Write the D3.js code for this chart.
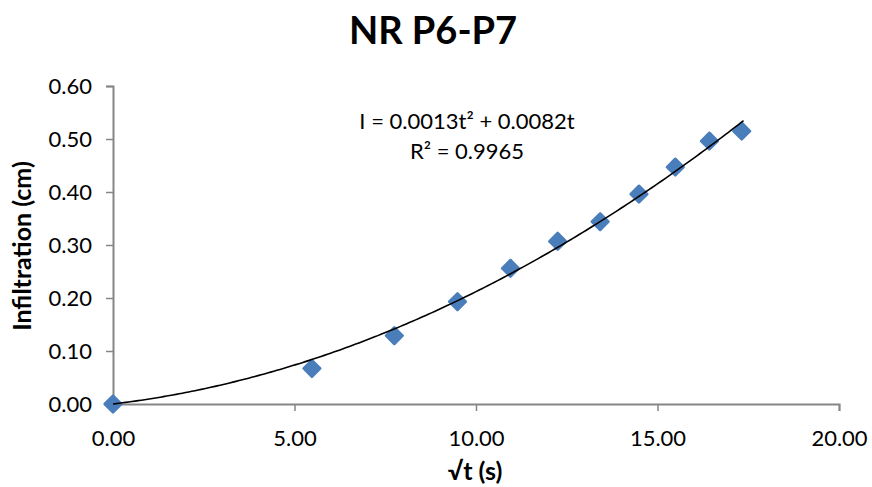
<!DOCTYPE html>
<html><head><meta charset="utf-8">
<script src="https://cdn.jsdelivr.net/npm/d3@7"></script>
<style>body{margin:0;background:#fff}svg{display:block}</style>
</head><body>
<svg id="c" width="872" height="487"></svg>
<script>
const sqrtT = [0, 5.48, 7.75, 9.49, 10.95, 12.25, 13.42, 14.49, 15.49, 16.43, 17.32];
const infiltration = [0, 0.067, 0.129, 0.193, 0.256, 0.307, 0.344, 0.396, 0.447, 0.496, 0.515];
const trendCoef = [0.0013, 0.0082]; // I = a t^2 + b t
const xTicks = [0, 5, 10, 15, 20];
const yTicks = [0, 0.1, 0.2, 0.3, 0.4, 0.5, 0.6];
const title = "NR P6-P7";
const xTitle = "√t (s)";
const yTitle = "Infiltration (cm)";
const eqLine1 = "I = 0.0013t² + 0.0082t";
const eqLine2 = "R² = 0.9965";

const F = "Lato, 'Open Sans', sans-serif";
const svg = d3.select("#c");
const x = d3.scaleLinear().domain([0, 20]).range([113, 839]);
const y = d3.scaleLinear().domain([0, 0.6]).range([404, 86]);

const xa = svg.append("g").attr("transform", "translate(0,404)")
  .call(d3.axisBottom(x).tickValues(xTicks).tickFormat(d3.format(".2f")).tickSizeOuter(0).tickSize(7).tickPadding(19));
const ya = svg.append("g").attr("transform", "translate(113,0)")
  .call(d3.axisLeft(y).tickValues(yTicks).tickFormat(d3.format(".2f")).tickSizeOuter(0).tickSize(7).tickPadding(14));
[xa, ya].forEach(g => {
  g.select(".domain").attr("stroke", "#868686").attr("stroke-width", 2);
  g.selectAll(".tick line").attr("stroke", "#868686").attr("stroke-width", 1.5);
  g.selectAll(".tick text").attr("fill", "#000").style("font-family", F).style("font-size", "22px");
});

// trendline
const tmax = sqrtT[sqrtT.length - 1] + 0.05;
const curve = d3.range(0, 201).map(i => {
  const t = tmax * i / 200;
  return [t, trendCoef[0] * t * t + trendCoef[1] * t];
});
// points
const sym = d3.symbol().type(d3.symbolSquare).size(140);
svg.append("g").selectAll("path").data(sqrtT.map((t, i) => [t, infiltration[i]])).join("path")
  .attr("d", sym)
  .attr("transform", d => `translate(${x(d[0])},${y(d[1])}) rotate(45)`)
  .attr("fill", "#4a7ebb").attr("stroke", "#4a7ebb").attr("stroke-width", 2.5).attr("stroke-linejoin", "round");

svg.append("path").datum(curve)
  .attr("d", d3.line().x(d => x(d[0])).y(d => y(d[1])))
  .attr("fill", "none").attr("stroke", "#000").attr("stroke-width", 1.6);

svg.append("text").attr("x", 433).attr("y", 44).attr("text-anchor", "middle")
  .style("font-family", F).style("font-weight", "bold").style("font-size", "38px").text(title);
svg.append("text").attr("x", 475).attr("y", 480).attr("text-anchor", "middle")
  .style("font-family", F).style("font-weight", "bold").style("font-size", "25px").text(xTitle);
svg.append("text").attr("transform", "translate(31,246) rotate(-90)").attr("text-anchor", "middle")
  .style("font-family", F).style("font-weight", "bold").style("font-size", "25px").text(yTitle);
svg.append("text").attr("x", 467).attr("y", 129).attr("text-anchor", "middle")
  .style("font-family", F).style("font-size", "22px").text(eqLine1);
svg.append("text").attr("x", 467).attr("y", 159).attr("text-anchor", "middle")
  .style("font-family", F).style("font-size", "22px").text(eqLine2);
</script>
</body></html>
